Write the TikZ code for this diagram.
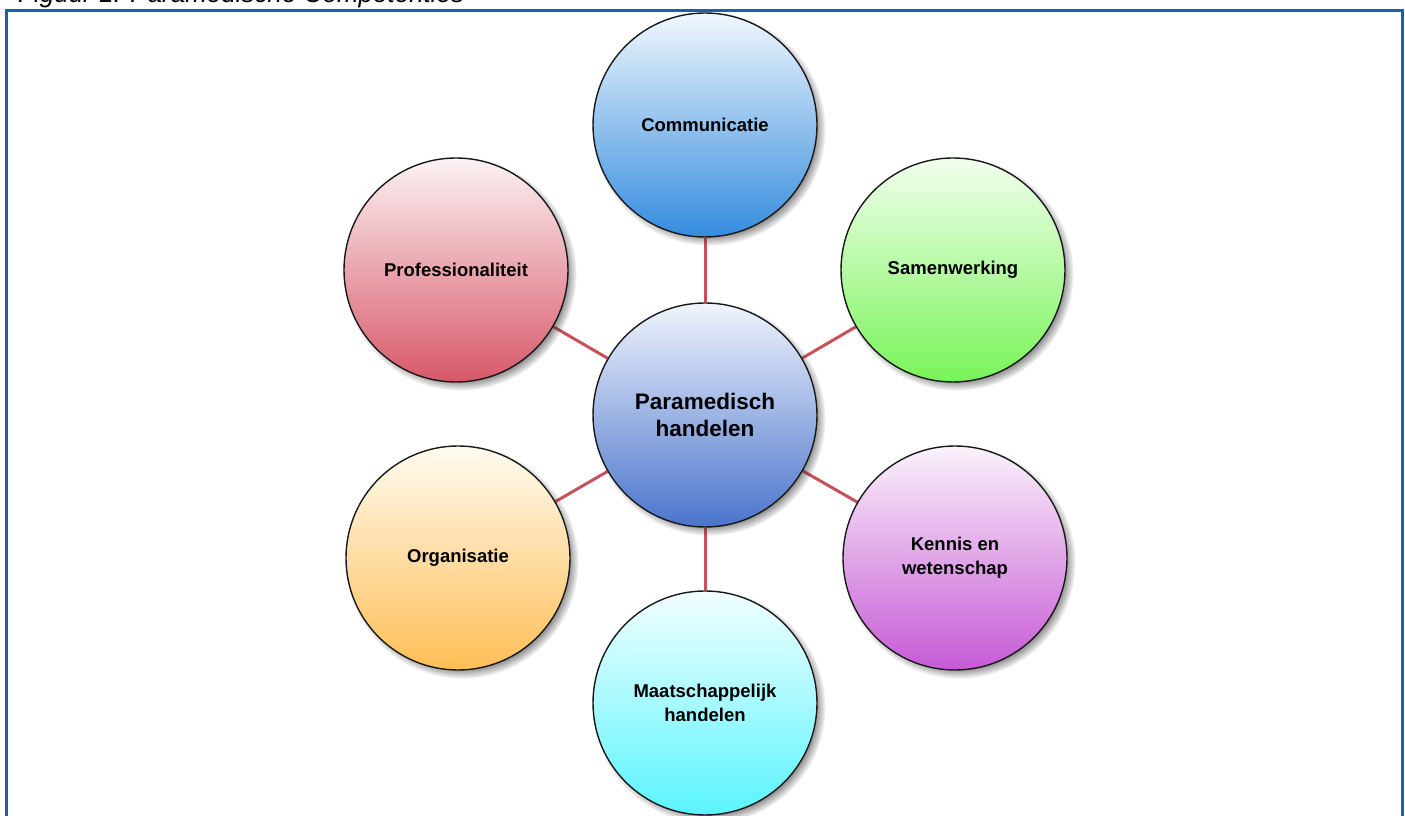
\documentclass[tikz,border=0pt]{standalone}
\usepackage{fontspec}
\setmainfont{Liberation Sans}
\usetikzlibrary{shadows,backgrounds}

\definecolor{framebl}{RGB}{22,98,178}
\definecolor{linkred}{RGB}{199,80,90}

\tikzset{
  bubble/.style={circle, draw=black!90, line width=1.4pt, minimum size=224pt,
    inner sep=0pt, align=center, font=\bfseries\fontsize{18.5}{24}\selectfont,
    circular drop shadow={shadow xshift=4pt, shadow yshift=-4pt,
      shadow scale=1.04, opacity=0.9, fill=black!80}},
  link/.style={draw=linkred, line width=3pt},
}

\begin{document}
\begin{tikzpicture}[x=1pt,y=1pt]
    \useasboundingbox (0,0) rectangle (1405,816);
    \clip (0,0) rectangle (1405,816);

    % caption (cut off at the top)
    \node[anchor=base west, inner sep=0pt, font=\itshape\fontsize{26}{30}\selectfont]
        (caption) at (18,813) {Figuur 1: Paramedische Competenties};

    % frame
    \draw[framebl, line width=3pt] (6,-20) |- (1402,805.5) -- (1402,-20);

    % centre
    \node[bubble, top color={rgb,255:red,240;green,244;blue,252},
        bottom color={rgb,255:red,74;green,116;blue,204},
        font=\bfseries\fontsize{22.5}{27}\selectfont]
        (hub) at (705,401) {Paramedisch\\handelen};

    % competences
    \node[bubble, top color={rgb,255:red,240;green,247;blue,253},
        bottom color={rgb,255:red,52;green,140;blue,222}]
        (comm) at (705,691) {Communicatie};

    \node[bubble, top color={rgb,255:red,242;green,255;blue,238},
        bottom color={rgb,255:red,120;green,244;blue,88}]
        (samen) at (953,546) {Samenwerking};

    \node[bubble, top color={rgb,255:red,252;green,242;blue,244},
        bottom color={rgb,255:red,216;green,88;blue,104}]
        (prof) at (456,546) {Professionaliteit};

    \node[bubble, top color={rgb,255:red,255;green,251;blue,240},
        bottom color={rgb,255:red,255;green,190;blue,86}]
        (org) at (458,258) {Organisatie};

    \node[bubble, top color={rgb,255:red,251;green,242;blue,251},
        bottom color={rgb,255:red,198;green,90;blue,214}]
        (kennis) at (955,258) {Kennis en\\wetenschap};

    \node[bubble, top color={rgb,255:red,242;green,255;blue,255},
        bottom color={rgb,255:red,90;green,244;blue,255}]
        (maat) at (705,113) {Maatschappelijk\\handelen};

    % spokes
    \begin{pgfonlayer}{background}
        \draw[link] (hub) -- (comm);
        \draw[link] (hub) -- (samen);
        \draw[link] (hub) -- (prof);
        \draw[link] (hub) -- (org);
        \draw[link] (hub) -- (kennis);
        \draw[link] (hub) -- (maat);
    \end{pgfonlayer}
\end{tikzpicture}
\end{document}
